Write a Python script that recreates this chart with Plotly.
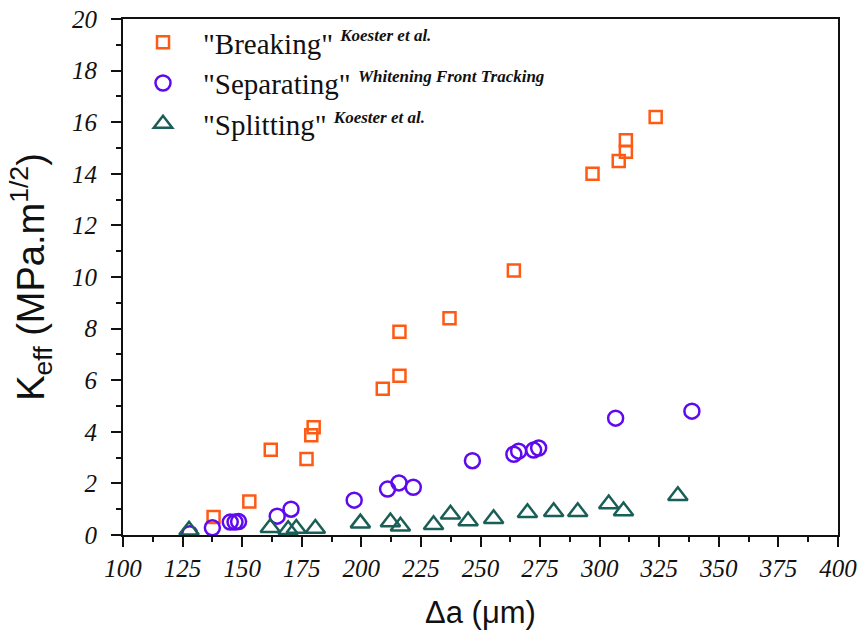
import plotly.graph_objects as go

# Breaking (Koester et al.)
breaking_x = [138, 153, 162, 177, 179, 180, 209, 216, 216, 237, 264, 297, 308, 311, 311, 323.5]
breaking_y = [0.7, 1.3, 3.3, 2.95, 3.87, 4.18, 5.67, 7.88, 6.17, 8.4, 10.25, 14.0, 14.5, 14.85, 15.3, 16.2]

# Separating (Whitening Front Tracking)
separating_x = [128, 137.5, 145, 147, 148.5, 164.7, 170.5, 197, 211, 215.8, 221.8, 246.6,
                264, 266, 272.3, 274.4, 306.7, 338.7]
separating_y = [0.05, 0.28, 0.5, 0.5, 0.52, 0.73, 1.0, 1.35, 1.78, 2.02, 1.85, 2.88,
                3.13, 3.25, 3.29, 3.37, 4.53, 4.8]

# Splitting (Koester et al.)
splitting_x = [127.7, 161.8, 169.3, 172.7, 180.7, 199.6, 212.2, 216.4, 230.3, 237.4, 244.8,
               255.5, 269.7, 280.7, 290.8, 303.8, 310, 332.8]
splitting_y = [0.18, 0.28, 0.2, 0.25, 0.25, 0.46, 0.5, 0.34, 0.4, 0.8, 0.54, 0.63, 0.86,
               0.9, 0.9, 1.2, 0.93, 1.52]

x_ticks = [100, 125, 150, 175, 200, 225, 250, 275, 300, 325, 350, 375, 400]
y_ticks = [0, 2, 4, 6, 8, 10, 12, 14, 16, 18, 20]

ORANGE = "#FF5A14"
PURPLE = "#5F0AEE"
TEAL = "#1A5F57"

SUP = ' <sup><span style="font-size:17px;font-style:italic;font-weight:bold">{}</span></sup>'

fig = go.Figure()
fig.add_trace(go.Scatter(
    x=breaking_x, y=breaking_y, mode="markers",
    name='"Breaking"' + SUP.format("Koester et al."),
    marker=dict(symbol="square-open", size=12, color=ORANGE, line=dict(width=2.5, color=ORANGE)),
))
fig.add_trace(go.Scatter(
    x=separating_x, y=separating_y, mode="markers",
    name='"Separating"' + SUP.format("Whitening Front Tracking"),
    marker=dict(symbol="circle-open", size=15, color=PURPLE, line=dict(width=2.5, color=PURPLE)),
))
fig.add_trace(go.Scatter(
    x=splitting_x, y=splitting_y, mode="markers",
    name='"Splitting"' + SUP.format("Koester et al."),
    marker=dict(symbol="triangle-up-open", size=17, color=TEAL, line=dict(width=2.5, color=TEAL)),
))

tickfont = dict(family="Liberation Serif", size=25, color="#111", style="italic")

fig.update_layout(
    width=865, height=638,
    margin=dict(l=123, r=27, t=19, b=103, autoexpand=False),
    paper_bgcolor="white", plot_bgcolor="white",
    showlegend=True,
    legend=dict(
        x=0.0, y=1.004, xanchor="left", yanchor="top",
        bgcolor="rgba(0,0,0,0)", borderwidth=0,
        font=dict(family="Liberation Serif", size=29, color="#111"),
        itemwidth=70,
    ),
    xaxis=dict(
        range=[100, 400], tickvals=x_ticks, ticktext=[str(v) for v in x_ticks],
        showgrid=False, zeroline=False,
        showline=True, linecolor="#111", linewidth=2, mirror=True,
        ticks="outside", ticklen=10, tickwidth=2, tickcolor="#111",
        minor=dict(ticks="outside", ticklen=5, tickwidth=2, tickcolor="#111", dtick=12.5, tick0=100),
        tickfont=tickfont, ticklabelstandoff=0,
        title=dict(text="Δa (μm)", font=dict(family="Liberation Sans", size=31, color="#111"), standoff=20),
    ),
    yaxis=dict(
        range=[0, 20], tickvals=y_ticks, ticktext=[str(v) for v in y_ticks],
        showgrid=False, zeroline=False,
        showline=True, linecolor="#111", linewidth=2, mirror=True,
        ticks="outside", ticklen=10, tickwidth=2, tickcolor="#111",
        minor=dict(ticks="outside", ticklen=5, tickwidth=2, tickcolor="#111", dtick=1, tick0=0),
        tickfont=tickfont, ticklabelstandoff=9,
        title=dict(text="K<sub>eff</sub> (MPa.m<sup>1/2</sup>)",
                   font=dict(family="Liberation Sans", size=38, color="#111"), standoff=16),
    ),
)

fig.write_html(
    "out.html",
    config={"displayModeBar": False},
    post_script="document.body.style.margin='0';document.body.style.overflow='hidden';",
)
